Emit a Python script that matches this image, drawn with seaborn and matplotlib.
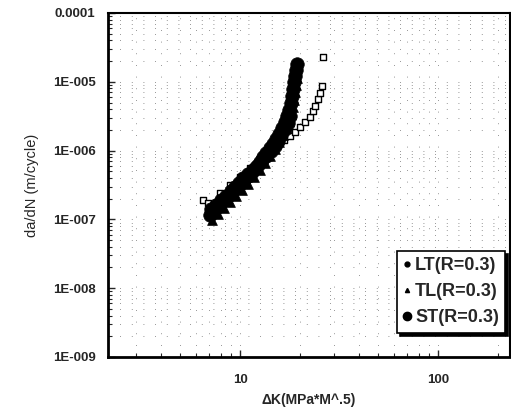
import matplotlib
matplotlib.use("Agg")
import matplotlib.pyplot as plt
from matplotlib.lines import Line2D
from matplotlib.ticker import LogLocator, FixedLocator, NullFormatter, FixedFormatter
import seaborn as sns
import numpy as np

# ---- data ----
st_dk = [7.05, 7.30, 7.56, 7.93, 8.30, 8.70, 9.11, 9.55, 10.0, 10.47, 10.97, 11.49,
         12.04, 12.62, 13.07, 13.53, 14.2, 14.68, 15.2, 15.74, 16.3, 16.88, 17.28,
         17.68, 18.1, 18.3, 18.52, 18.74, 18.96, 19.18, 19.41,
         7.15, 7.6, 8.0, 8.5, 9.0, 9.4, 9.9, 10.4, 11.0, 11.6, 12.3, 12.9, 13.6, 14.4,
         15.0, 15.6, 16.2, 16.8, 17.4, 17.9]
st_dadn = [1.16e-7, 1.28e-7, 1.47e-7, 1.67e-7, 1.91e-7, 2.19e-7, 2.50e-7, 2.86e-7,
           3.27e-7, 3.74e-7, 4.27e-7, 4.89e-7, 5.78e-7, 6.83e-7, 8.07e-7, 9.23e-7,
           1.09e-6, 1.25e-6, 1.47e-6, 1.74e-6, 2.13e-6, 2.61e-6, 3.19e-6, 3.89e-6,
           4.92e-6, 6.22e-6, 7.86e-6, 9.93e-6, 1.21e-5, 1.48e-5, 1.81e-5,
           1.40e-7, 1.62e-7, 1.92e-7, 2.20e-7, 2.60e-7, 2.95e-7, 3.40e-7, 3.95e-7,
           4.50e-7, 5.20e-7, 6.10e-7, 7.20e-7, 8.40e-7, 1.00e-6, 1.18e-6, 1.40e-6,
           1.68e-6, 2.05e-6, 2.55e-6, 3.20e-6]

tl_dk = [7.22, 7.74, 8.30, 8.90, 9.55, 10.23, 10.97, 11.77, 12.62, 13.37, 14.2,
         15.03, 15.74, 16.49, 17.08, 17.68, 18.1, 18.52, 18.74, 18.96, 19.18, 19.41]
tl_dadn = [9.8e-8, 1.20e-7, 1.47e-7, 1.79e-7, 2.19e-7, 2.67e-7, 3.27e-7, 4.13e-7,
           5.22e-7, 6.6e-7, 8.35e-7, 1.06e-6, 1.33e-6, 1.69e-6, 2.13e-6, 2.69e-6,
           3.4e-6, 4.3e-6, 5.44e-6, 7.1e-6, 8.98e-6, 1.13e-5]

lt_dk = [6.50, 6.89, 7.93, 8.90, 10.0, 11.23, 12.62, 14.2, 15.56, 16.68, 17.9,
         18.96, 20.1, 21.3, 22.6, 23.4, 23.9, 24.8, 25.3, 25.9, 26.2]
lt_dadn = [1.91e-7, 1.73e-7, 2.42e-7, 3.16e-7, 4.13e-7, 5.58e-7, 7.55e-7, 9.87e-7,
           1.21e-6, 1.43e-6, 1.63e-6, 1.86e-6, 2.2e-6, 2.61e-6, 3.08e-6, 3.77e-6,
           4.45e-6, 5.62e-6, 6.87e-6, 8.69e-6, 2.29e-5]

series_labels = ["LT(R=0.3)", "TL(R=0.3)", "ST(R=0.3)"]
y_ticks = [1e-9, 1e-8, 1e-7, 1e-6, 1e-5, 1e-4]
y_ticklabels = ["1E-009", "1E-008", "1E-007", "1E-006", "1E-005", "0.0001"]
x_ticks = [10, 100]
x_ticklabels = ["10", "100"]

sns.set_theme(style="white")
plt.rcParams["font.family"] = ["Liberation Sans", "DejaVu Sans"]

fig = plt.figure(figsize=(5.11, 4.15), dpi=100)
ax = fig.add_axes([108/511, 58/415, 402/511, 344/415])
ax.set_xscale("log")
ax.set_yscale("log")
ax.set_xlim(2.154, 231)
ax.set_ylim(1e-9, 1e-4)

# sparse dotted grid remnants
ax.grid(which="both", linestyle=(0, (1, 13)), color="black", linewidth=0.6, alpha=0.55)
ax.set_axisbelow(True)

sns.scatterplot(x=lt_dk, y=lt_dadn, ax=ax, marker="s", s=24, facecolor="white",
                edgecolor="black", linewidth=1.0, zorder=3)
sns.scatterplot(x=st_dk, y=st_dadn, ax=ax, marker="o", s=95, color="black",
                edgecolor="black", linewidth=0.5, zorder=4)
sns.scatterplot(x=tl_dk, y=tl_dadn, ax=ax, marker="^", s=50, color="black",
                edgecolor="black", linewidth=0.5, zorder=4)

ax.xaxis.set_major_locator(FixedLocator(x_ticks))
ax.xaxis.set_major_formatter(FixedFormatter(x_ticklabels))
ax.xaxis.set_minor_formatter(NullFormatter())
ax.yaxis.set_major_locator(FixedLocator(y_ticks))
ax.yaxis.set_major_formatter(FixedFormatter(y_ticklabels))
ax.yaxis.set_minor_locator(LogLocator(base=10, subs=np.arange(2, 10)))
ax.yaxis.set_minor_formatter(NullFormatter())

ax.tick_params(axis="y", which="major", direction="in", length=5, width=1,
               labelsize=9.5, pad=9, left=True)
ax.tick_params(axis="x", which="major", direction="in", length=5, width=1,
               labelsize=9.5, pad=12, bottom=True)
ax.tick_params(axis="y", which="minor", direction="in", length=3, width=0.8, left=True)
ax.tick_params(axis="x", which="minor", direction="in", length=3, width=0.8, bottom=True)
for lab in ax.get_xticklabels() + ax.get_yticklabels():
    lab.set_fontweight("bold")

for side in ["left", "bottom"]:
    ax.spines[side].set_linewidth(2.0)
for side in ["top", "right"]:
    ax.spines[side].set_linewidth(1.5)
for sp in ax.spines.values():
    sp.set_color("black")

ax.set_ylabel("da/dN (m/cycle)", fontsize=10.5, labelpad=10)
ax.set_xlabel("\u0394K(MPa*M^.5)", fontsize=10, fontweight="bold", labelpad=5)

handles = [
    Line2D([], [], linestyle="none", marker="o", markersize=3.5, color="black"),
    Line2D([], [], linestyle="none", marker="^", markersize=3, color="black"),
    Line2D([], [], linestyle="none", marker="o", markersize=6, color="black"),
]
leg = ax.legend(handles, series_labels, loc="lower right", bbox_to_anchor=(0.997, 0.06),
                frameon=True, fancybox=False, shadow={"color": "black", "alpha": 1},
                prop={"family": ["Liberation Sans", "DejaVu Sans"], "size": 13,
                      "weight": "bold"},
                handlelength=0.4, handletextpad=0.25, borderpad=0.35, labelspacing=0.5,
                borderaxespad=0.2)
leg.get_frame().set_edgecolor("black")
leg.get_frame().set_linewidth(1.2)
leg.set_zorder(10)

fig.savefig("out.png", dpi=100)
